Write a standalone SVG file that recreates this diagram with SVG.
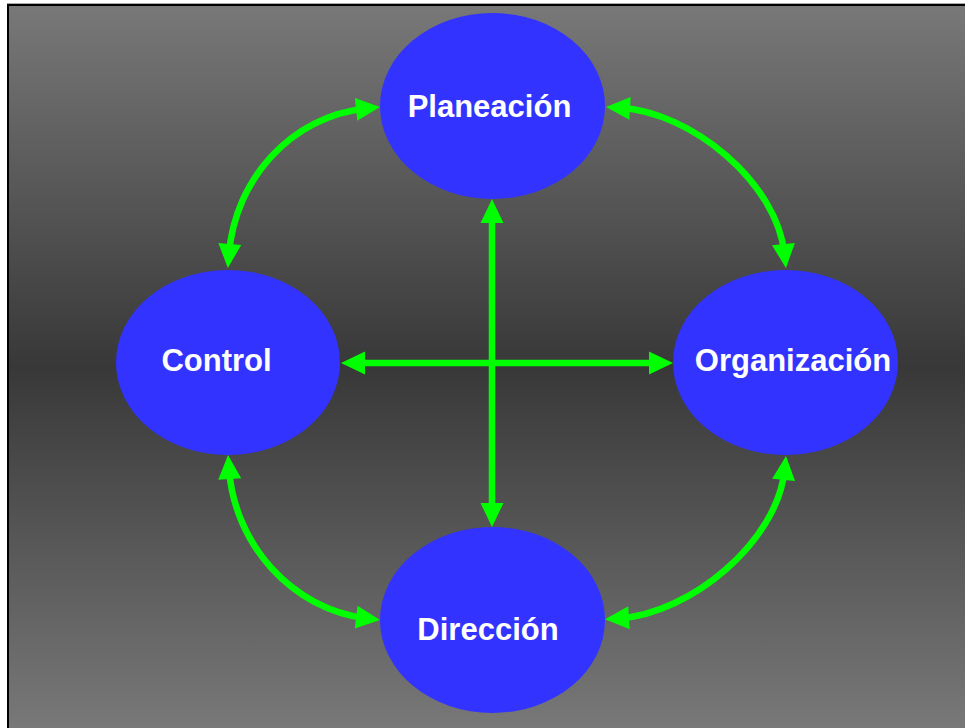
<svg xmlns="http://www.w3.org/2000/svg" width="965" height="728" viewBox="0 0 965 728">
  <defs>
    <linearGradient id="bg" x1="0" y1="5" x2="0" y2="728" gradientUnits="userSpaceOnUse">
      <stop offset="0" stop-color="#787878"/>
      <stop offset="0.5" stop-color="#383838"/>
      <stop offset="1" stop-color="#787878"/>
    </linearGradient>
    <marker id="ah" markerUnits="userSpaceOnUse" markerWidth="24" markerHeight="24" refX="10" refY="12" orient="auto-start-reverse" overflow="visible">
      <path d="M0,0.5 L24,12 L0,23.5 Z" fill="#00FF00"/>
    </marker>
  </defs>
  <style>
    .node { fill: #3333FF; }
    .label { fill: #FFFFFF; font-family: "Liberation Sans", Arial, sans-serif; font-weight: bold; font-size: 31px; text-anchor: middle; }
    .conn { fill: none; stroke: #00FF00; stroke-width: 6.5; marker-start: url(#ah); marker-end: url(#ah); }
  </style>
  <rect x="0" y="0" width="965" height="728" fill="#FFFFFF"/>
  <rect x="9" y="6" width="960" height="726" fill="url(#bg)"/>
  <rect x="7" y="3" width="960" height="1" fill="#AAAAAA"/>
  <rect x="7" y="4" width="960" height="2" fill="#000000"/>
  <rect x="7" y="4" width="2" height="730" fill="#000000"/>

  <g id="connectors">
    <path class="conn" d="M355,363 H659"/>
    <path class="conn" d="M492,213 V513"/>
    <path class="conn" d="M229,254 C235,179 291.5,116 366,108.4"/>
    <path class="conn" d="M620,107.8 C692,112 777,182.5 784.5,254.1"/>
    <path class="conn" d="M229,469 C234.3,543.8 291.7,609.1 366.1,618.3"/>
    <path class="conn" d="M784.6,469.9 C777.5,541.5 690.9,613.7 619,618.4"/>
  </g>

  <g id="planeacion">
    <ellipse class="node" cx="492.5" cy="106" rx="112.5" ry="93"/>
    <text class="label" x="489.5" y="117">Planeación</text>
  </g>
  <g id="control">
    <ellipse class="node" cx="228" cy="362.5" rx="112" ry="92.5"/>
    <text class="label" x="216.5" y="371">Control</text>
  </g>
  <g id="organizacion">
    <ellipse class="node" cx="785.5" cy="362.5" rx="112.5" ry="92.5"/>
    <text class="label" x="793" y="371">Organización</text>
  </g>
  <g id="direccion">
    <ellipse class="node" cx="492.5" cy="620" rx="112.5" ry="93"/>
    <text class="label" x="488" y="640">Dirección</text>
  </g>
</svg>
